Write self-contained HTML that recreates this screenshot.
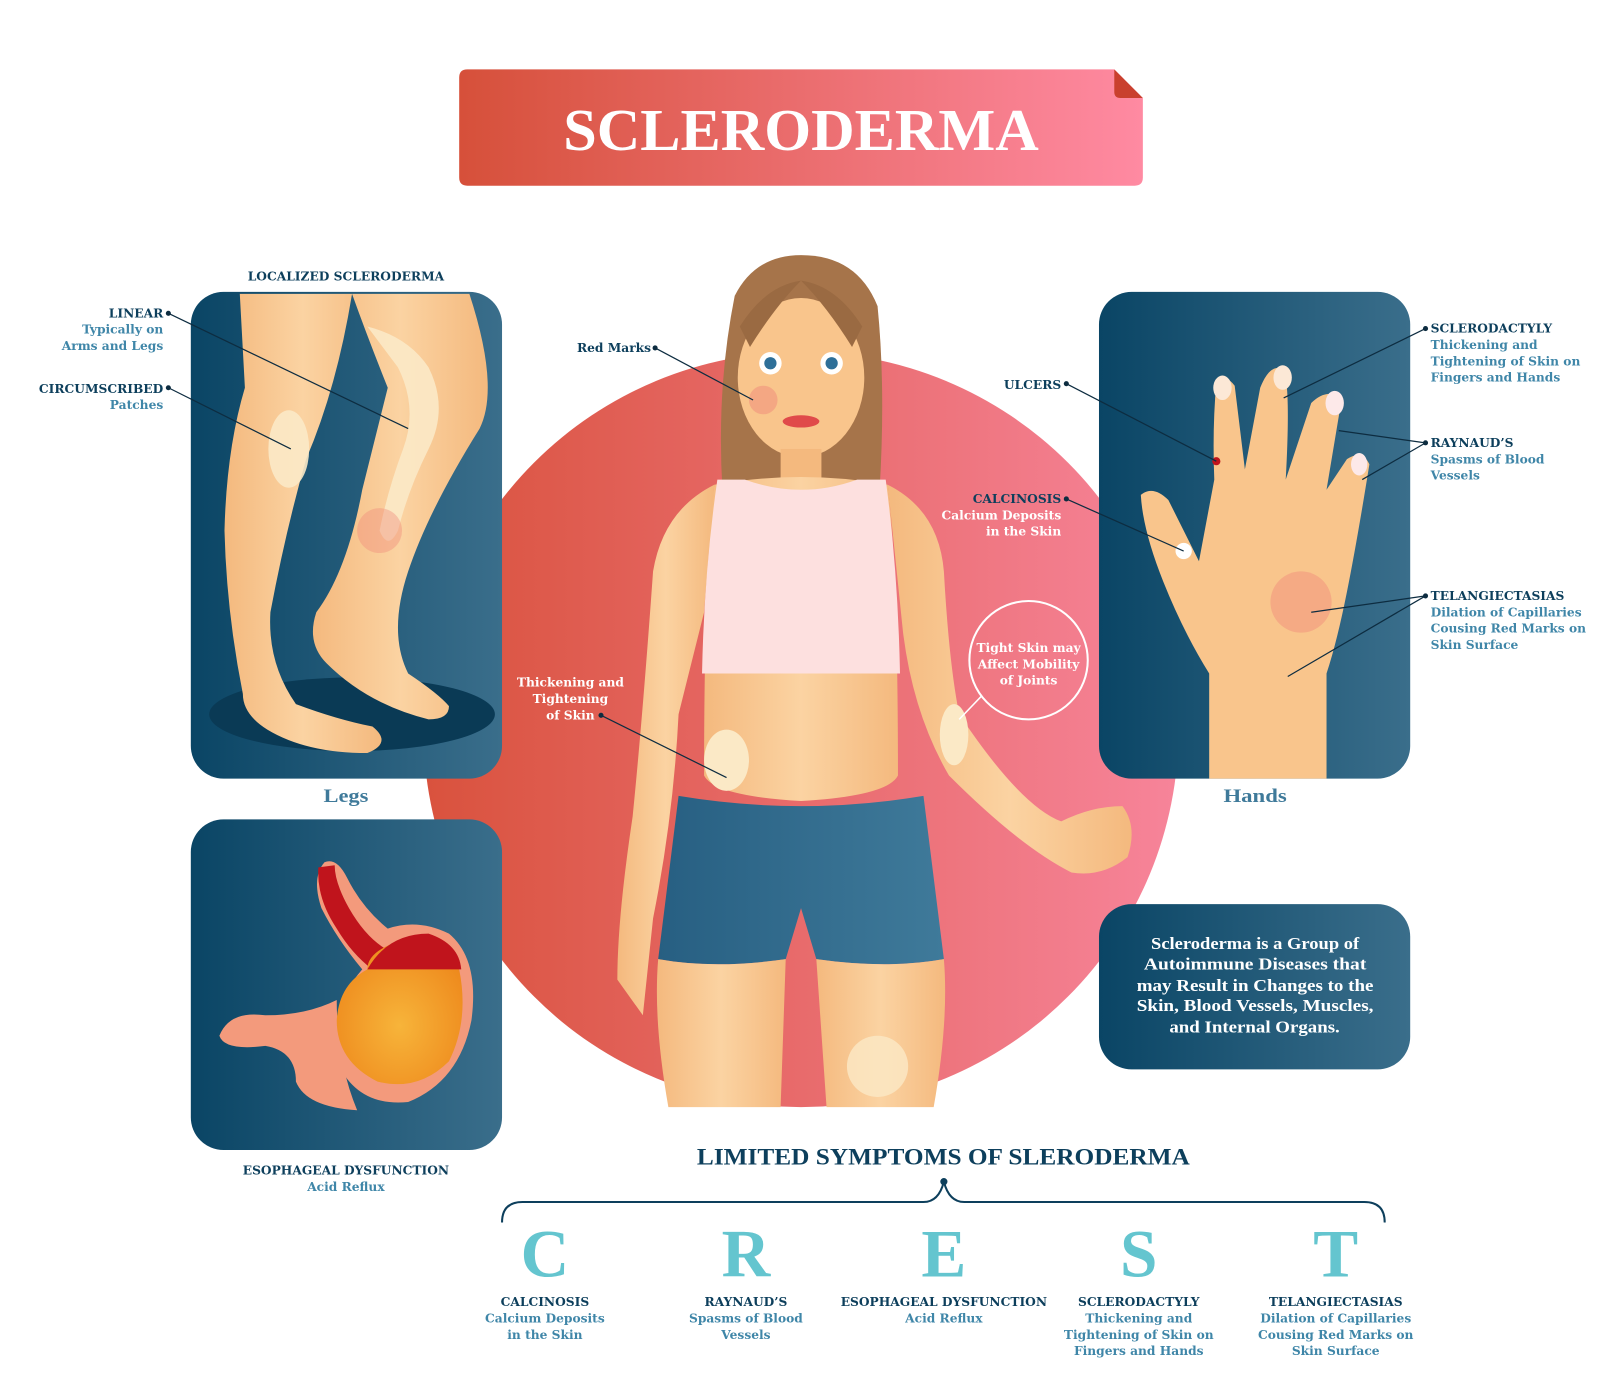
<!DOCTYPE html>
<html><head><meta charset="utf-8"><style>
html,body{margin:0;padding:0;background:#fff;}
svg{display:block;}
text{font-family:"Liberation Serif",serif;font-weight:bold;}
.d,.l,.w{font-family:"DejaVu Serif",serif;font-size:12px;}
.d{fill:#0d3f5c;}
.l{fill:#3f86a8;}
.w{fill:#fff;}
</style></head><body>
<svg width="1600" height="1400" viewBox="0 0 1568 1372" xmlns="http://www.w3.org/2000/svg">
<defs>
<linearGradient id="ban" x1="0" x2="1"><stop offset="0" stop-color="#d6503a"/><stop offset="1" stop-color="#ff8aa2"/></linearGradient>
<linearGradient id="cir" x1="0" x2="1"><stop offset="0" stop-color="#d9523d"/><stop offset="1" stop-color="#f7849a"/></linearGradient>
<linearGradient id="pan" x1="0" x2="1"><stop offset="0" stop-color="#0a4565"/><stop offset="1" stop-color="#3a6e8b"/></linearGradient>
<linearGradient id="skin" x1="0" x2="1"><stop offset="0" stop-color="#f4b97e"/><stop offset="0.5" stop-color="#fbd3a2"/><stop offset="1" stop-color="#f4b97e"/></linearGradient>
<linearGradient id="shorts" x1="0" x2="1"><stop offset="0" stop-color="#275f82"/><stop offset="1" stop-color="#3f7a9a"/></linearGradient>
<radialGradient id="sto" cx="0.5" cy="0.6" r="0.6"><stop offset="0" stop-color="#f7b43a"/><stop offset="1" stop-color="#ee8a1d"/></radialGradient>
</defs>

<path d="M458 68 H1092 L1120 96 V174 Q1120 182 1112 182 H458 Q450 182 450 174 V76 Q450 68 458 68Z" fill="url(#ban)"/>
<path d="M1092 68 L1120 96 H1098 Q1092 96 1092 90Z" fill="#c9402e"/>
<text x="552" y="147" textLength="466" lengthAdjust="spacingAndGlyphs" style="font-size:58px;fill:#fff">SCLERODERMA</text>

<circle cx="785" cy="715" r="370" fill="url(#cir)"/>

<rect x="187" y="286" width="305" height="477" rx="32" fill="url(#pan)"/>
<rect x="187" y="803" width="305" height="324" rx="32" fill="url(#pan)"/>
<rect x="1077" y="286" width="305" height="477" rx="32" fill="url(#pan)"/>
<rect x="1077" y="886" width="305" height="162" rx="32" fill="url(#pan)"/>

<ellipse cx="345" cy="700" rx="140" ry="36" fill="#0a3a55"/>
<path d="M235 288 H345 Q330 380 300 450 Q280 520 265 600 Q262 650 290 690 Q330 705 365 712 Q385 728 360 738 Q300 738 262 715 Q238 700 238 680 Q222 600 220 520 Q222 440 240 380Z" fill="url(#skin)"/>
<path d="M345 288 H460 Q490 380 470 420 Q420 500 400 560 Q380 620 400 660 Q430 680 440 692 Q440 705 420 705 Q360 690 320 650 Q300 630 310 600 Q340 560 355 480 Q370 420 380 380 Q360 330 345 288Z" fill="url(#skin)"/>
<path d="M360 320 Q400 330 420 360 Q440 400 420 440 Q400 480 390 520 Q380 540 372 520 Q380 480 395 440 Q410 400 390 360Z" fill="#fbe9c6" opacity="0.9"/>
<ellipse cx="283" cy="440" rx="20" ry="38" fill="#fbe9c6" opacity="0.9"/>
<circle cx="372" cy="520" r="22" fill="#f08a7a" opacity="0.4"/>

<path d="M318 845 Q305 860 315 890 Q330 920 355 950 Q320 990 330 1040 Q350 1085 400 1080 Q450 1060 462 1000 Q470 940 440 915 Q410 900 380 910 Q355 890 340 860 Q330 840 318 845Z" fill="#f39a7c"/>
<path d="M330 980 Q300 995 260 995 Q225 990 215 1015 Q220 1030 260 1025 Q290 1030 290 1060 Q300 1085 350 1088 Q330 1040 330 980Z" fill="#f39a7c"/>
<path d="M312 850 Q310 880 330 910 Q345 935 365 950 L378 930 Q358 918 342 890 Q328 865 328 848Z" fill="#c0141c"/>
<path d="M360 950 Q360 930 400 920 Q440 915 450 950 Q460 1000 440 1040 Q410 1070 370 1060 Q330 1040 330 1000 Q332 965 360 950Z" fill="url(#sto)"/>
<path d="M360 950 Q380 915 420 915 Q450 925 452 950 Z" fill="#c0141c"/>

<path d="M1185 763 V660 Q1160 620 1140 570 Q1120 520 1118 485 Q1130 475 1145 490 Q1160 520 1175 550 L1190 470 Q1188 420 1192 375 Q1200 365 1210 378 L1220 460 L1235 380 Q1245 355 1258 362 Q1265 380 1260 470 L1285 395 Q1300 380 1315 390 L1300 480 L1320 450 Q1335 440 1342 455 Q1330 530 1320 580 Q1310 630 1300 660 V763Z" fill="#f9c58c"/>
<ellipse cx="1198" cy="380" rx="9" ry="12" fill="#fce8d6"/>
<ellipse cx="1257" cy="370" rx="9" ry="12" fill="#fce8d6"/>
<ellipse cx="1308" cy="395" rx="9" ry="12" fill="#fde9e9"/>
<ellipse cx="1332" cy="455" rx="8" ry="11" fill="#fde9e9"/>
<circle cx="1275" cy="590" r="30" fill="#f08a7a" opacity="0.45"/>
<circle cx="1192" cy="452" r="4" fill="#c0141c"/>
<circle cx="1160" cy="540" r="8" fill="#fff"/>

<path d="M720 290 Q740 250 785 250 Q840 250 860 300 Q868 380 862 480 L708 480 Q702 380 720 290Z" fill="#a6744a"/>
<ellipse cx="785" cy="370" rx="62" ry="78" fill="#f9c58c"/>
<path d="M725 320 Q750 280 785 275 Q760 300 735 340Z M845 320 Q820 280 785 275 Q810 300 835 340Z" fill="#9a6a42"/>
<circle cx="755" cy="356" r="11" fill="#fff"/><circle cx="755" cy="356" r="6" fill="#2e6f98"/>
<circle cx="815" cy="356" r="11" fill="#fff"/><circle cx="815" cy="356" r="6" fill="#2e6f98"/>
<ellipse cx="785" cy="413" rx="18" ry="6" fill="#e04a4a"/>
<rect x="765" y="440" width="40" height="40" fill="#f4b97e"/>
<path d="M700 475 Q785 460 870 475 Q880 560 880 760 Q870 780 785 785 Q700 780 690 760 Q690 560 700 475Z" fill="url(#skin)"/>
<path d="M700 475 Q650 500 640 560 Q630 700 620 800 Q605 900 605 960 L630 995 L640 900 Q660 800 665 700 L690 600Z" fill="url(#skin)"/>
<path d="M870 475 Q920 500 925 560 Q930 650 940 700 Q1000 790 1040 805 Q1070 790 1100 790 Q1115 810 1105 840 Q1080 860 1050 855 Q1000 830 930 760 Q895 700 885 620Z" fill="url(#skin)"/>
<path d="M703 470 L730 470 Q785 490 840 470 L868 470 Q880 560 882 660 L688 660 Q690 560 703 470Z" fill="#fde0df"/>
<path d="M665 780 Q785 800 905 780 L925 940 Q870 950 800 940 L785 890 L770 940 Q700 950 645 940Z" fill="url(#shorts)"/>
<path d="M645 940 Q700 950 770 940 L765 1085 L655 1085 Q640 1000 645 940Z" fill="url(#skin)"/>
<path d="M800 940 Q870 950 925 940 Q930 1000 915 1085 L810 1085Z" fill="url(#skin)"/>
<ellipse cx="712" cy="745" rx="22" ry="30" fill="#fbe9c6"/>
<ellipse cx="935" cy="720" rx="14" ry="30" fill="#fbe9c6"/>
<ellipse cx="860" cy="1045" rx="30" ry="30" fill="#fbe9c6" opacity="0.8"/>
<circle cx="748" cy="392" r="14" fill="#f08a7a" opacity="0.5"/>

<circle cx="1008" cy="647" r="58" fill="none" stroke="#fff" stroke-width="2"/>
<line x1="962" y1="682" x2="940" y2="705" stroke="#fff" stroke-width="1.5"/>
<text x="1008" y="639" text-anchor="middle" class="w">Tight Skin may</text>
<text x="1008" y="655" text-anchor="middle" class="w">Affect Mobility</text>
<text x="1008" y="671" text-anchor="middle" class="w">of Joints</text>

<g stroke="#0d2c40" stroke-width="1.2" fill="none">
<line x1="165" y1="307" x2="400" y2="420"/>
<line x1="165" y1="380" x2="285" y2="440"/>
<line x1="642" y1="341" x2="738" y2="392"/>
<line x1="589" y1="701" x2="712" y2="762"/>
<line x1="1045" y1="376" x2="1192" y2="452"/>
<line x1="1045" y1="489" x2="1160" y2="540"/>
<line x1="1397" y1="322" x2="1258" y2="390"/>
<line x1="1397" y1="434" x2="1312" y2="422"/>
<line x1="1397" y1="434" x2="1335" y2="470"/>
<line x1="1397" y1="584" x2="1285" y2="600"/>
<line x1="1397" y1="584" x2="1262" y2="663"/>
</g>
<g fill="#0d2c40">
<circle cx="165" cy="307" r="2.5"/><circle cx="165" cy="380" r="2.5"/><circle cx="642" cy="341" r="2.5"/>
<circle cx="589" cy="701" r="2.5"/><circle cx="1045" cy="376" r="2.5"/><circle cx="1045" cy="489" r="2.5"/>
<circle cx="1397" cy="322" r="2.5"/><circle cx="1397" cy="434" r="2.5"/><circle cx="1397" cy="584" r="2.5"/>
</g>

<text x="339" y="275" text-anchor="middle" class="d">LOCALIZED SCLERODERMA</text>
<text x="160" y="311" text-anchor="end" class="d">LINEAR</text>
<text x="160" y="327" text-anchor="end" class="l">Typically on</text>
<text x="160" y="343" text-anchor="end" class="l">Arms and Legs</text>
<text x="160" y="385" text-anchor="end" class="d">CIRCUMSCRIBED</text>
<text x="160" y="401" text-anchor="end" class="l">Patches</text>
<text x="317" y="786" textLength="44" lengthAdjust="spacingAndGlyphs" style="font-size:19px;fill:#3f7a9a">Legs</text>
<text x="1199" y="786" textLength="62" lengthAdjust="spacingAndGlyphs" style="font-size:19px;fill:#3f7a9a">Hands</text>
<text x="339" y="1151" text-anchor="middle" class="d">ESOPHAGEAL DYSFUNCTION</text>
<text x="339" y="1167" text-anchor="middle" class="l">Acid Reflux</text>
<text x="638" y="345" text-anchor="end" class="d">Red Marks</text>
<text x="559" y="673" text-anchor="middle" class="w">Thickening and</text>
<text x="559" y="689" text-anchor="middle" class="w">Tightening</text>
<text x="559" y="705" text-anchor="middle" class="w">of Skin</text>
<text x="1040" y="381" text-anchor="end" class="d">ULCERS</text>
<text x="1040" y="493" text-anchor="end" class="d">CALCINOSIS</text>
<text x="1040" y="509" text-anchor="end" class="w">Calcium Deposits</text>
<text x="1040" y="525" text-anchor="end" class="w">in the Skin</text>
<text x="1402" y="326" class="d">SCLERODACTYLY</text>
<text x="1402" y="342" class="l">Thickening and</text>
<text x="1402" y="358" class="l">Tightening of Skin on</text>
<text x="1402" y="374" class="l">Fingers and Hands</text>
<text x="1402" y="438" class="d">RAYNAUD’S</text>
<text x="1402" y="454" class="l">Spasms of Blood</text>
<text x="1402" y="470" class="l">Vessels</text>
<text x="1402" y="588" class="d">TELANGIECTASIAS</text>
<text x="1402" y="604" class="l">Dilation of Capillaries</text>
<text x="1402" y="620" class="l">Cousing Red Marks on</text>
<text x="1402" y="636" class="l">Skin Surface</text>
<g style="font-size:16px;fill:#fff">
<text x="1128" y="930" textLength="204" lengthAdjust="spacingAndGlyphs">Scleroderma is a Group of</text>
<text x="1121" y="950" textLength="218" lengthAdjust="spacingAndGlyphs">Autoimmune Diseases that</text>
<text x="1114" y="971" textLength="232" lengthAdjust="spacingAndGlyphs">may Result in Changes to the</text>
<text x="1114" y="991" textLength="232" lengthAdjust="spacingAndGlyphs">Skin, Blood Vessels, Muscles,</text>
<text x="1146" y="1012" textLength="167" lengthAdjust="spacingAndGlyphs">and Internal Organs.</text>
</g>

<text x="683" y="1141" textLength="483" lengthAdjust="spacingAndGlyphs" style="font-size:23px;fill:#0d3f5c">LIMITED SYMPTOMS OF SLERODERMA</text>
<path d="M492 1198 Q492 1178 512 1178 H905 Q920 1178 925 1158 Q930 1178 945 1178 H1337 Q1357 1178 1357 1198" fill="none" stroke="#0d3f5c" stroke-width="2"/>
<circle cx="925" cy="1158" r="3.5" fill="#0d3f5c"/>
<g style="font-size:66px;fill:#64c5cf" text-anchor="middle">
<text x="534" y="1251">C</text><text x="731" y="1251">R</text><text x="925" y="1251">E</text><text x="1116" y="1251">S</text><text x="1309" y="1251">T</text>
</g>
<g text-anchor="middle">
<text x="534" y="1280" class="d">CALCINOSIS</text>
<text x="534" y="1296" class="l">Calcium Deposits</text>
<text x="534" y="1312" class="l">in the Skin</text>
<text x="731" y="1280" class="d">RAYNAUD’S</text>
<text x="731" y="1296" class="l">Spasms of Blood</text>
<text x="731" y="1312" class="l">Vessels</text>
<text x="925" y="1280" class="d">ESOPHAGEAL DYSFUNCTION</text>
<text x="925" y="1296" class="l">Acid Reflux</text>
<text x="1116" y="1280" class="d">SCLERODACTYLY</text>
<text x="1116" y="1296" class="l">Thickening and</text>
<text x="1116" y="1312" class="l">Tightening of Skin on</text>
<text x="1116" y="1328" class="l">Fingers and Hands</text>
<text x="1309" y="1280" class="d">TELANGIECTASIAS</text>
<text x="1309" y="1296" class="l">Dilation of Capillaries</text>
<text x="1309" y="1312" class="l">Cousing Red Marks on</text>
<text x="1309" y="1328" class="l">Skin Surface</text>
</g>
</svg>
</body></html>
